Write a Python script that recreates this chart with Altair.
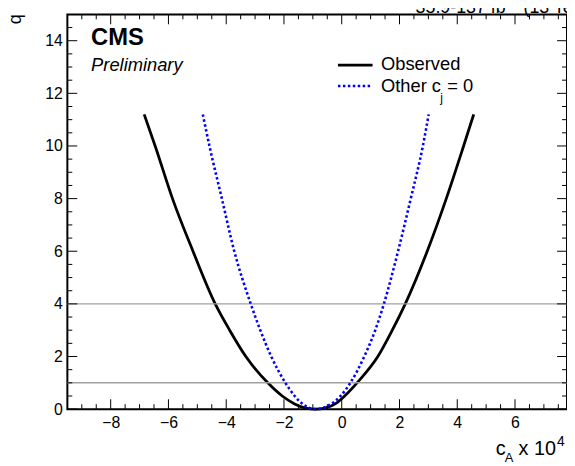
import altair as alt
import pandas as pd

# ---------------- data ----------------
obs_x = [-6.84, -6.46, -5.86, -5.15, -4.38, -3.88, -3.32, -2.56, -2.06, -1.63, -1.25, -0.92,
         -0.55, -0.2, 0.1, 0.53, 1.25, 1.75, 2.2, 2.96, 3.62, 4.22, 4.57]
obs_q = [11.2, 10.0, 8.0, 6.0, 4.0, 3.0, 2.0, 1.0, 0.5, 0.2, 0.04, 0.0,
         0.05, 0.22, 0.5, 1.0, 2.0, 3.0, 4.0, 6.0, 8.0, 10.0, 11.2]

oth_x = [-4.81, -4.58, -4.15, -3.72, -3.15, -2.82, -2.44, -1.95, -1.63, -1.36, -1.1, -0.9,
         -0.65, -0.36, -0.04, 0.3, 0.78, 1.16, 1.46, 1.95, 2.39, 2.81, 3.01]
oth_q = [11.2, 10.0, 8.0, 6.0, 4.0, 3.0, 2.0, 1.0, 0.5, 0.2, 0.04, 0.0,
         0.05, 0.2, 0.5, 1.0, 2.0, 3.0, 4.0, 6.0, 8.0, 10.0, 11.2]

ref_levels = [1, 4]

x_major = [-8, -6, -4, -2, 0, 2, 4, 6]
x_minor = [-9, -8.5, -7.5, -7, -6.5, -5.5, -5, -4.5, -3.5, -3, -2.5, -1.5, -1, -0.5,
           0.5, 1, 1.5, 2.5, 3, 3.5, 4.5, 5, 5.5, 6.5, 7, 7.5]
y_major = [0, 2, 4, 6, 8, 10, 12, 14]
y_minor = [0.5, 1, 1.5, 2.5, 3, 3.5, 4.5, 5, 5.5, 6.5, 7, 7.5, 8.5, 9, 9.5,
           10.5, 11, 11.5, 12.5, 13, 13.5, 14.5]

legend_labels = ["Observed", "Other c", "j", "= 0"]
cms_text = "CMS"
prelim_text = "Preliminary"
lumi_parts = ["35.9-137 fb", "\u22121", " (13 TeV)"]
xtitle_parts = ["c", "A", "x 10", "4"]
ytitle = "q"

# ---------------- layout ----------------
W, H = 505, 399
FONT = "Liberation Sans"
MAJ, MIN = 10, 5

x_scale = alt.Scale(domain=[-9.5, 7.8], nice=False, zero=False)
y_scale = alt.Scale(domain=[0, 15], nice=False, zero=False)

x_axis = alt.Axis(values=x_major, ticks=False, domain=False, grid=False,
                  labelFont=FONT, labelFontSize=16, labelPadding=6,
                  labelColor="black", labelFlush=False, title=None)
y_axis = alt.Axis(values=y_major, ticks=False, domain=False, grid=False,
                  labelFont=FONT, labelFontSize=16, labelPadding=5,
                  labelColor="black", labelFlush=False, title=None)

obs_df = pd.DataFrame({"x": obs_x, "q": obs_q})
oth_df = pd.DataFrame({"x": oth_x, "q": oth_q})

obs_line = alt.Chart(obs_df).mark_line(
    color="black", strokeWidth=2.8, interpolate="monotone"
).encode(
    x=alt.X("x:Q", scale=x_scale, axis=x_axis),
    y=alt.Y("q:Q", scale=y_scale, axis=y_axis),
)

oth_line = alt.Chart(oth_df).mark_line(
    color="#0000ff", strokeWidth=2.6, strokeDash=[2.5, 2.5], interpolate="monotone"
).encode(
    x=alt.X("x:Q", scale=x_scale),
    y=alt.Y("q:Q", scale=y_scale),
)

ref_lines = alt.Chart(pd.DataFrame({"q": ref_levels})).mark_rule(
    color="#a0a0a0", strokeWidth=1.5
).encode(
    y=alt.Y("q:Q", scale=y_scale),
    x=alt.value(0), x2=alt.value(W),
)


def xticks(vals, y0, y1):
    return alt.Chart(pd.DataFrame({"v": vals})).mark_rule(
        color="black", strokeWidth=1
    ).encode(x=alt.X("v:Q", scale=x_scale),
             y=alt.value(y0), y2=alt.value(y1))


def yticks(vals, x0, x1):
    return alt.Chart(pd.DataFrame({"v": vals})).mark_rule(
        color="black", strokeWidth=1
    ).encode(y=alt.Y("v:Q", scale=y_scale),
             x=alt.value(x0), x2=alt.value(x1))


tick_layers = [
    xticks(x_major, H, H - MAJ), xticks(x_minor, H, H - MIN),
    xticks(x_major, 0, MAJ), xticks(x_minor, 0, MIN),
    yticks(y_major, 0, MAJ), yticks(y_minor, 0, MIN),
    yticks(y_major, W, W - MAJ), yticks(y_minor, W, W - MIN),
]


def text(s, x, y, size, weight="normal", style="normal", align="left",
         baseline="alphabetic", angle=0):
    kw = dict(font=FONT, fontSize=size, fontWeight=weight, fontStyle=style,
              align=align, baseline=baseline, color="black")
    if angle:
        kw["angle"] = angle
    return alt.Chart(pd.DataFrame({"t": [s]})).mark_text(**kw).encode(
        text="t:N", x=alt.value(x), y=alt.value(y))


texts = [
    text(cms_text, 24, 31, 24, weight="bold"),
    text(prelim_text, 24, 57, 18.5, style="italic"),
    text(legend_labels[0], 317, 56.5, 18.5),
    text(legend_labels[1], 317, 78, 18.5),
    text(legend_labels[2], 377, 88.5, 12),
    text(legend_labels[3], 384, 78, 18.5),
    text(lumi_parts[0], 352, -1, 18),
    text(lumi_parts[1], 443, -8, 12),
    text(lumi_parts[2], 461, -1, 18),
    text(xtitle_parts[0], 433, 445.5, 20),
    text(xtitle_parts[1], 442, 452, 13),
    text(xtitle_parts[2], 456, 445.5, 20),
    text(xtitle_parts[3], 495, 436, 14),
    text(ytitle, -47, 0, 18, align="right", angle=270),
]

leg_black = alt.Chart(pd.DataFrame({"k": [0]})).mark_rule(
    color="black", strokeWidth=2.8
).encode(x=alt.value(273.5), x2=alt.value(308.5), y=alt.value(51.3))
leg_blue = alt.Chart(pd.DataFrame({"k": [0]})).mark_rule(
    color="#0000ff", strokeWidth=2.6, strokeDash=[2.5, 2.5]
).encode(x=alt.value(273.5), x2=alt.value(308.5), y=alt.value(72.3))

chart = alt.layer(
    obs_line, ref_lines, oth_line, *tick_layers, leg_black, leg_blue, *texts
).properties(
    width=W, height=H,
    autosize=alt.AutoSizeParams(type="none"),
    padding={"left": 60, "top": 4, "right": 0, "bottom": 55},
    background="white",
).configure_view(
    stroke="black", strokeWidth=2
)

chart.save("out.html", embed_options={"renderer": "svg", "actions": False})
